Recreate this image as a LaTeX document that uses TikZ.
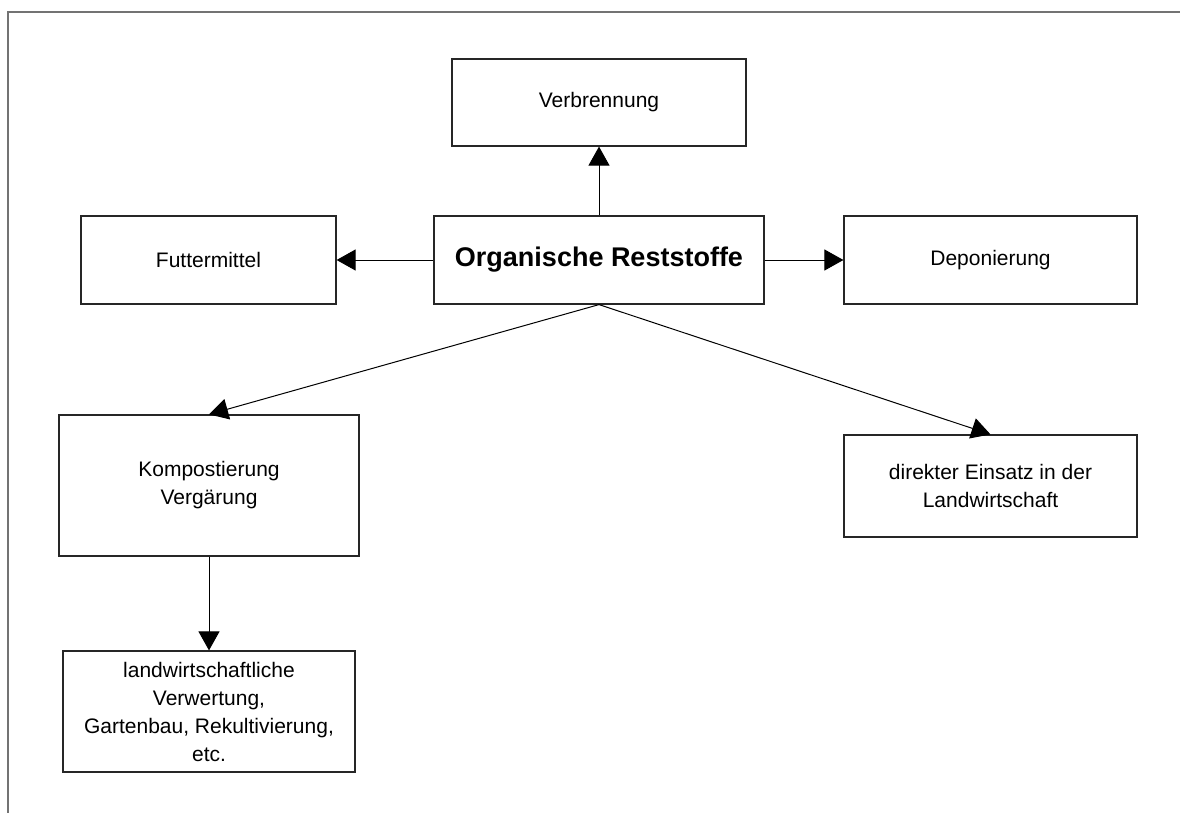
\documentclass[tikz,border=0pt]{standalone}
\usepackage{fontspec}
\setmainfont{Liberation Sans}
\usetikzlibrary{arrows.meta}
\begin{document}
\begin{tikzpicture}[x=1pt,y=-1pt,
  box/.style={draw=black!85,line width=1.2pt,rectangle,inner sep=0pt,align=center,
    font=\fontsize{21}{28}\selectfont},
  conn/.style={line width=1pt,-{Triangle[length=19pt,width=21pt]}},
  frameline/.style={draw=gray!90!black,line width=2pt}]
\useasboundingbox (0,0) rectangle (1180,813);
\coordinate (fa) at (8,813);
\coordinate (fb) at (8,12);
\coordinate (fc) at (1180,12);
\draw[frameline] (fa) -- (fb) -- (fc);

\node[box,minimum width=294pt,minimum height=87pt] (verb) at (599,102.5) {Verbrennung};
\node[box,minimum width=330pt,minimum height=88pt,font=\fontsize{27}{30}\bfseries] (org) at (599,260) {Organische Reststoffe};
\node[box,minimum width=255pt,minimum height=88pt] (fut) at (208.5,260) {Futtermittel};
\node[box,minimum width=293pt,minimum height=88pt] (dep) at (990.5,260) {Deponierung};
\node[box,minimum width=300pt,minimum height=141pt] (komp) at (209,485.5) {Kompostierung\\Vergärung};
\node[box,minimum width=293pt,minimum height=102pt] (dir) at (990.5,486) {direkter Einsatz in der\\Landwirtschaft};
\node[box,minimum width=292pt,minimum height=121pt] (land) at (209,711.5) {landwirtschaftliche\\Verwertung,\\Gartenbau, Rekultivierung,\\etc.};

\draw[conn] (org.north) -- (verb.south);
\draw[conn] (org.west) -- (fut.east);
\draw[conn] (org.east) -- (dep.west);
\draw[conn] (org.south) -- (komp.north);
\draw[conn] (org.south) -- (dir.north);
\draw[conn] (komp.south) -- (land.north);
\end{tikzpicture}
\end{document}
